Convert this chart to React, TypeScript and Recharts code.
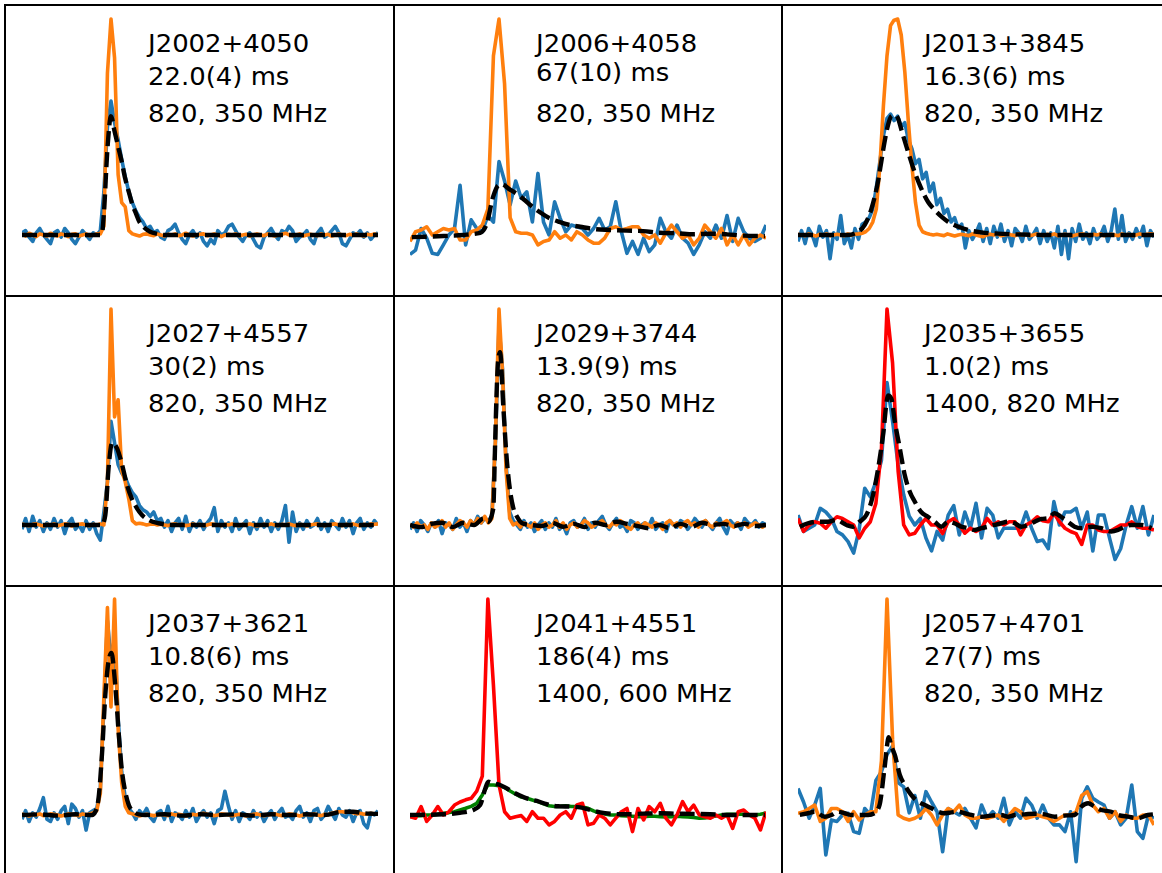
import React from "react";
import { LineChart, Line, XAxis, YAxis } from "recharts";

// ---------- Panel labels ----------
const NAMES = ["J2002+4050", "J2006+4058", "J2013+3845", "J2027+4557", "J2029+3744", "J2035+3655", "J2037+3621", "J2041+4551", "J2057+4701"];
const TAUS = ["22.0(4) ms", "67(10) ms", "16.3(6) ms", "30(2) ms", "13.9(9) ms", "1.0(2) ms", "10.8(6) ms", "186(4) ms", "27(7) ms"];
const FREQS = ["820, 350 MHz", "820, 350 MHz", "820, 350 MHz", "820, 350 MHz", "820, 350 MHz", "1400, 820 MHz", "820, 350 MHz", "1400, 600 MHz", "820, 350 MHz"];

// ---------- Panel 1: J2002+4050 ----------
const P1_LOW = [
  1, 2, -1, -3, 1, 3, 0, -2, -4, 1,
  2, -1, 3, 1, -2, -4, -1, 2, 0, -2,
  1, 0, 2, 20, 50, 62, 52, 44, 35, 27,
  20, 15, 11, 8, 6, 3, 4, 1, 2, -1,
  -2, 2, 3, 5, 1, -2, -4, 0, 2, -1,
  1, -3, -5, -2, -4, 2, 0, 1, 4, 5,
  2, -1, -3, 0, 1, -2, -5, -6, -1, 1,
  3, 0, -2, 2, 1, 4, 2, -3, -1, 0,
  2, -2, -4, 1, 3, -1, 0, 2, 4, 1,
  -4, -5, -2, 1, 0, 2, -1, 1, -2, 0,
  1,
];
const P1_HIGH = [
  0.5, -0.5, 0.8, 0, -0.8, 0.5, 0, -0.5, 0.8, 0,
  -0.5, 0.5, 0, -0.8, 0.3, 0.5, -0.5, 0, 0.5, -0.3,
  0, 0.5, 0.5, 4, 75, 100, 82, 28, 15, 13,
  2, 0.5, 0, -0.5, 0.3, 0.5, 0, -0.3, 0.5, 0,
  -0.5, 0.3, 0, 0.5, -0.3, 0, 0.8, 0, -0.5, 0,
  0.3, 0.5, -0.3, 0, 0.5, 0, -0.8, 0, 0.3, 0,
  0.5, -0.3, 0, 0.3, -0.5, 0, 0.5, 0, -0.3, 0.5,
  0, -0.5, 0, 0.3, 0.8, 0, -0.3, 0, 0.5, -0.5,
  0, 0.3, 0, -0.3, 0.5, 0, 0.3, -0.5, 0, 0.5,
  0, -0.3, 0.3, 0, 0.5, 0, -0.5, 0.3, 0, 0.5,
  0,
];
const P1_FIT = [
  [0, 0], [22, 0], [22.5, 1], [23, 10], [24, 40], [25, 55], [26, 48], [27, 41], [28, 34], [29, 26],
  [30, 20], [31, 14], [32, 10], [33, 6], [34, 4], [35, 2.5], [36, 1.5], [38, 0.5], [40, 0], [100, 0],
];

// ---------- Panel 2: J2006+4058 ----------
const P2_LOW = [
  -9, -7, 3, -1.5, -8.5, -9, -4.6, 0, 3, 23,
  -4.6, 7, 3, 1.5, 9, 6, 34, 25, 14, 25,
  17, 20, 6, 28.5, 6, 0, 15.4, 7.7, 1.5, 4.6,
  3.8, 3, 0, 3, 7.7, 2.3, 3.8, 15.4, 1.5, -8.5,
  -3, -9, -1.5, -7.7, -4.6, 7.7, 1.5, -1.5, 4.6, -1.5,
  -3.8, -9, -4.6, 1.5, -1.5, 4.6, -1.5, 9, -3, 7.7,
  1.5, -1.5, -3, -1.5, 4.6,
];
const P2_HIGH = [
  -3, 1.5, 2.3, 3.8, 0, 1.5, 3, 2.3, 3, -2.3,
  -2.3, 1.5, 2.3, 4.6, 12, 83, 100, 70, 8, 1.5,
  0.8, 0.8, 0, -4.6, -3, -2.3, 1.5, -1.5, 0, -2.3,
  1.5, 0, -2.3, -3.8, -3.8, -1.5, 3, 3.8, 2.3, 3,
  3.8, 3.8, 0, -1.5, 0, -3.8, 0.8, 4.6, 1.5, -1.5,
  0, -4.6, -1.5, 4.6, 1.5, -1.5, 3, -4.6, 0, -4.6,
  0, -4.6, -1.5, 0, -1.5,
];
const P2_FIT = [
  [0.5, -1], [9.4, -0.5], [15, 0], [19.7, 1], [21.5, 5], [23.4, 18], [24.8, 23], [25.7, 23.5], [28.1, 21],
  [30.9, 18], [33.7, 14], [36.5, 10.5], [39.3, 7.7], [42.1, 6], [44.9, 4.6], [47.8, 3.8], [51.5, 2.8],
  [56.2, 2.3], [60.9, 2], [65.5, 1.8], [70.2, 1], [74.9, 0.8], [79.6, 0.3], [84.3, 0.6], [89, 0.3],
  [93.6, -0.3], [99.7, -0.5],
];

// ---------- Panel 3: J2013+3845 ----------
const P3_LOW = [
  -3, 2, -4, 3, 0, -5, 4, -1, 2, -11,
  1, -2, 9, -4, 0, -6, 3, -2, 5, 6,
  8, 12, 22, 34, 46, 54, 56, 53, 55, 50,
  52, 44, 40, 33, 35, 26, 29, 20, 24, 14,
  17, 10, 12, 6, 8, 3, 5, -6, 2, -2,
  1, 5, -3, 3, -4, 4, -1, 5, -3, 2,
  -5, 3, 1, -3, 4, -2, 0, 3, -4, 2,
  -3, 1, -6, 4, -9, 2, -11, 3, -3, 5,
  -2, 1, -4, 3, -2, 0, 4, -3, 2, 12,
  -2, 9, -3, 1, -2, 3, -1, 4, -5, 2,
  -1,
];
const P3_HIGH = [
  0.3, 0, -0.3, 0.5, 0, -0.5, 0.3, 0, 0.5, -0.3,
  0, 0.3, 0, -0.3, 0.5, 0, 0.3, 0.5, 0.8, 1.5,
  3, 6, 12, 32, 60, 83, 97, 99.5, 100, 92.6,
  75.6, 52.5, 32, 15, 4.6, 1.5, 0.8, 0.3, 0, 0.3,
  0, -0.3, 0.5, 0, -0.5, 0, 0.3, 0, -0.3, 0.5,
  0, -0.5, -0.8, 0, 0.3, 0, 0.5, -0.3, 0, 0.3,
  0, -0.3, 0.5, 0, 0.3, -0.3, 0, 0.5, 0, -0.3,
  0.3, 0, 0.5, -0.3, 0, 0.3, 0, -0.5, 0, 0.3,
  0.5, 0, -0.3, 0.3, 0, 0.5, -0.3, 0, 0.3, 0,
  -0.3, 0.5, 0, 0.3, -0.3, 0, 0.5, 0, 0.3, 0.5,
  0.3,
];
const P3_FIT = [
  [0, 0], [14, 0], [16.9, 1.5], [18.7, 4.6], [20.6, 12], [22.5, 25], [23.4, 34], [24.3, 43], [25.3, 51],
  [26.2, 55], [27.2, 55.6], [28.1, 54], [29, 49], [30.9, 38.6], [32.8, 29], [34.6, 21.6], [36.5, 15.4],
  [38.4, 11.6], [40.3, 8.5], [42.1, 6.2], [44.9, 3.9], [47.8, 2.3], [51.5, 1.2], [56.2, 0.6], [60.9, 0.3],
  [70.2, 0], [100, 0],
];

// ---------- Panel 4: J2027+4557 ----------
const P4_LOW = [
  -2, 3, -3, 4, -1, 2, -3, 1, -2, 3,
  -1, 2, -4, 1, 3, -2, 0, -3, 2, -2,
  1, -4, -7, 6, 20, 48, 38, 28, 24, 22,
  18, 15, 13, 9, 7, 6, 4, 6, 2, 3,
  -1, 2, -3, 1, 3, -2, 4, -3, 1, -1,
  2, -2, 1, 3, 8, -3, 2, -1, 1, -3,
  3, -2, 0, 2, -4, 1, -2, 3, -1, 2,
  -3, 1, -2, 2, 9, -8, 6, -3, 1, -2,
  2, -1, 0, 3, -2, 1, -3, 2, 0, -2,
  3, -1, 2, -4, 1, 3, -2, 1, -1, 2,
  0,
];
const P4_HIGH = [
  0.5, 0, -0.3, 0.3, 0.5, 0, -0.5, 0.3, 0, 0.5,
  -0.3, 0, 0.5, 0.3, -0.5, 0, 0.3, 0.5, 0, -0.3,
  0.3, 0, 0.5, 0, 20, 100, 50, 58, 25, 20,
  12, 2, 0.5, 0.8, 0.5, 0, 0.3, 0.5, 0, 0.3,
  0, -0.3, 0.3, 0.5, 0, 0.3, -0.3, 0, 0.5, 0,
  0.3, -0.3, 0, 0.5, 0.3, 0, -0.3, 0.3, 0, 0.5,
  0, -0.3, 0.3, 0, 0.5, 0, -0.5, 0, 0.3, 0,
  0.5, 0, -0.3, 0.3, 0, 0.5, 0, -0.3, 0.3, 0,
  -0.5, 0, 0.3, 0.5, 0, -0.3, 0, 0.3, 0.5, 0,
  -0.3, 0.3, 0, 0.5, 0, -0.3, 0.3, 0, 0.5, 0.3,
  0.5,
];
const P4_FIT = [
  [0, 0], [22.5, 0], [23.4, 4.6], [24.3, 26], [25.3, 38], [26.7, 35.5], [28.1, 28], [29.5, 18.5],
  [30.9, 12], [32.3, 7.7], [33.7, 4.6], [35.6, 2.3], [38.4, 0.8], [42.1, 0], [100, 0],
];

// ---------- Panel 5: J2029+3744 ----------
const P5_LOW = [
  -2, 1, -3, 2, 0, -3, 1, -1, 2, -4,
  1, 0, -2, 3, -1, 1, -3, 2, 0, 4,
  1, 3, 2, 4, 38, 92, 72, 28, 6, 2,
  0, -2, 2, -1, 1, -3, 0, 2, -2, 1,
  -1, 3, -2, 0, -4, 1, 2, -1, 0, 3,
  -2, 1, -1, 2, 4, 0, -2, 1, 3, -1,
  0, -3, 2, 1, -2, 0, 1, -1, 3, -2,
  0, 1, -3, 2, 0, -1, 2, 1, -2, 0,
  3, 1, -1, 2, 0, -2, 1, 3, -1, -4,
  2, 0, 1, -2, 3, 1, 0, 2, -1, 1,
  0,
];
const P5_HIGH = [
  0, -1, 1, -1, 0, -2, 1, -1, 0, 2,
  -1, 1, -2, 0, 2, 1, -1, 2, 0, 3,
  1, 4, 1, 3, 40, 100, 70, 25, 3, 0,
  1, -1, 1, 0, -1, 1, -2, 0, 1, -1,
  0, 2, -1, 1, -2, 0, 1, -1, 0, 2,
  1, -1, 0, 1, 2, 0, -1, 1, 0, 2,
  1, -1, -2, 0, 1, -1, 1, 0, -1, 1,
  0, -2, 1, 2, 0, 1, -1, 1, 2, 0,
  1, -1, 1, 2, 0, -1, 1, 0, 1, 2,
  0, -1, 1, 0, 1, -1, 0, 1, 0, -1,
  0,
];
const P5_FIT = [
  [0, 0], [3, -1], [6, 0.5], [9, 1], [12, -1], [15, 1], [18, 0], [20.6, 3], [22, 1.5], [23.4, 7.7],
  [23.9, 37], [24.3, 60], [24.8, 77], [25.3, 80], [26.2, 55], [27.2, 30], [28.1, 16], [29, 8], [30, 4],
  [31, 1.5], [32, 0.5], [34, 0], [37, -0.5], [40, 1], [43, -0.8], [46, 0.5], [49, -1], [52, 1], [55, 0],
  [58, 1.5], [61, 0.5], [64, -0.5], [67, -1.5], [70, 0], [73, -1.5], [76, 0.5], [79, -1], [82, 1],
  [85, 0], [88, 0.5], [91, -0.5], [94, 0.5], [97, -0.5], [100, 0],
];

// ---------- Panel 6: J2035+3655 ----------
const P6_LOW = [
  4.6, -3, -1.5, 0, 7.7, 6, 3, -3, -4.6, -7.7,
  -13, -2, 17, 13, 20, 30, 66, 48, 28, 14,
  4, 0, 3, -6, -12, -3, -7, 4.6, 9, -4.6,
  6, -1.5, 10, -6, 7.7, 4.6, -6, -1.5, -1.5, -1.5,
  -1.5, 6, -1.5, -7.7, -7, -11, 10.8, 0, 6, 6,
  7.7, -1.5, 6, -12, 4.6, 4.6, -6, -16, -11, 0,
  8.5, -1.5, 8.5, -4.6, 4.6,
];
const P6_HIGH = [
  3, -3, 0, 1.5, 0.8, -1.5, 1.5, 3.8, 3, 1.5,
  0, -6, -1.5, 1.5, 10, 35, 100, 75, 25, 0,
  -4.6, -3.8, 0, 3, 0, 0, -4, 1.5, 3, 0,
  -3.8, -1.5, -3, -1.5, 3, 0, 1.5, 0, 1.5, 1.5,
  -4.6, 0, 1.5, 3.8, 2, 1.5, 5.4, 1.5, -1.5, -3,
  -4, -9, 0, 0, -2.3, -3, -3, -1.5, 0, 0,
  1.5, -0.8, -1.5, -1.5, -2.3,
];
const P6_FIT = [
  [0.5, -0.8], [2.8, 0.8], [5.6, 1.5], [8.4, 1.5], [10.8, 2.3], [13.6, 0], [15.4, -0.8], [17.3, 1.5],
  [19.2, 4.6], [20.6, 10.8], [22.5, 26], [23.9, 41.7], [25.3, 60], [26.2, 58.6], [27.2, 47.8],
  [28.6, 35.5], [30, 23], [31.4, 15.4], [32.8, 10.8], [34.6, 6], [36.5, 3.8], [38.4, 1.5], [40.3, -0.8],
  [42.1, 1.5], [43.9, 0.8], [45.9, -0.8], [47.8, -1.5], [49.6, -2.3], [51.5, -1.5], [53.4, -0.8],
  [55.2, 0], [57.1, 0.8], [59, 1.5], [60.9, 0.8], [62.7, -0.8], [64.6, 0], [66.5, 1.5], [68.4, 2.8],
  [70.2, 3.1], [72.1, 5.4], [73.9, 3.8], [75.8, 1.5], [77.7, -0.8], [79.6, -1.5], [82.4, -0.8],
  [85.2, -1.5], [88, -3], [89.9, -2.3], [91.8, -0.8], [93.6, 0], [96.4, 0], [99.3, -1.5],
];

// ---------- Panel 7: J2037+3621 ----------
const P7_LOW = [
  -2, 2, -3, 1, -1, 3, 8, -2, -3, 1,
  -2, 2, 4, -4, 5, 3, -1, 2, -7, 1,
  2, 3, 12, 50, 90, 72, 82, 45, 20, 8,
  3, 1, -2, 2, 0, 3, -1, -3, 1, 2,
  -2, 4, -3, 1, 0, -2, 2, -1, 3, -3,
  0, 2, -1, 1, -4, 2, 3, 11, 4, -2,
  2, -3, 1, 0, -2, 2, -1, 1, -3, 0,
  2, -2, 1, 3, -1, 0, -2, 2, 4, -1,
  1, -3, 2, 3, -2, 0, 4, 1, -2, 3,
  0, -1, 2, -3, 1, 2, -4, -6, 1, 0,
  2,
];
const P7_HIGH = [
  0.5, 0, -0.5, 0.3, 0, 0.5, -0.3, 0, 0.5, 0.3,
  0, -0.5, 0, 0.5, 0.3, 0, -0.3, 0.5, 0, 0.5,
  1, 2, 10, 55, 96, 50, 100, 40, 15, 4,
  1, 0.5, 0, -0.5, 0, 0.3, 0, -0.3, 0, 0.3,
  0, -0.3, 0.5, 0, 0.3, 0, -0.5, 0, 0.3, 0,
  0.5, 0.8, 0.3, 0, -0.3, 0, 0.5, 0.3, 0, -0.3,
  0, 0.3, 0, -0.5, 0, 0.3, 0.5, 0, -0.3, 0,
  0.3, 0.5, 0, -0.3, 0, 0.5, 0.3, 0, -0.5, 0,
  0.3, 0, 0.5, 0, -0.3, 0.3, 0, 0.8, 1.2, 1.5,
  1.5, 1.2, 1.5, 1, 0.5, 0.8, 0.3, 0.5, 0.8, 0.5,
  0.5,
];
const P7_FIT = [
  [0, 0], [5, 0.3], [10, -0.3], [15, 0.3], [19.7, 0], [20.6, 1.5], [21.5, 7.7], [22.5, 29], [23.4, 55.6],
  [24.3, 71], [25.1, 75], [26.2, 60], [27.2, 37], [28.1, 20], [29, 10.8], [30, 4.6], [31.4, 1.5],
  [32.8, 0.3], [34.6, 0], [40, 0.3], [45, -0.3], [50, 0.3], [55, 0], [60, 0.3], [65, -0.3], [70, 0.3],
  [75, 0], [80, 0.3], [85, 0], [90, 1.5], [93, 1.5], [96, 0.8], [100, 0.5],
];

// ---------- Panel 8: J2041+4551 ----------
const P8_LOW = [
  -0.8, -0.5, -0.3, 0, 0, 0.3, 0.8, 1.1, 1.5, 2.3,
  3.1, 4, 5.4, 9.3, 13.9, 13.9, 13.6, 12.7, 11.1, 9.6,
  8.3, 7.7, 6.9, 6.2, 5.2, 4.3, 3.9, 4, 4.2, 3.9,
  3.9, 3.7, 3.1, 1.9, 0.9, 0.5, 0, 0, -0.3, -0.5,
  -0.6, -0.8, -0.8, -0.6, -0.6, -0.8, -0.9, -0.8, -0.6, -0.8,
  -0.9, -1.2, -1.5, -1.4, -0.9, -0.5, 0, 0.3, 0.3, 0.3,
  0.3, 0, 0, 0.3, 0.9,
];
const P8_HIGH = [
  -0.8, -1.5, 3.9, -3, 0, 3.9, 0, 1.5, 4.6, 6,
  7, 7.7, 11, 18, 100, 60, 14, 1.5, -1.5, -0.8,
  -0.3, -3, 1.5, -1.5, -1.5, -4.6, -3, 0, 1.5, -1.5,
  4.6, 5.4, -4.6, -3.8, 0, -1.5, -4.6, -1.5, 1.5, 3,
  -7.7, 3, -2.3, 3.9, 1.5, 5.4, -1.5, -4.6, 0, 6.2,
  1.5, 4.6, 0, -0.8, -1.5, 0, -1.5, 0, -6.2, 1.5,
  2.3, 0, -1.5, -6.9, 1.5,
];
const P8_FIT = [
  [0, 0], [9.4, 0.3], [14, 1], [17.8, 2.3], [19.7, 4.6], [21.1, 12], [22, 15.4], [23.4, 14.7],
  [25.3, 13.9], [27.2, 12.3], [29, 10.5], [30.9, 9], [32.8, 7.7], [35.6, 6.5], [38.4, 5], [40.3, 4.2],
  [42.1, 4], [44.9, 3.9], [47.8, 3.5], [50.6, 2.3], [53.4, 1.2], [56.2, 0.6], [60.9, 0.3], [65.5, 0.6],
  [70.2, 0.8], [74.9, 0.6], [79.6, 0.5], [84.3, 0.3], [89, 0], [99.7, 0],
];

// ---------- Panel 9: J2057+4701 ----------
const P9_LOW = [
  12.3, 6, -1.5, 4.6, 12.3, -18.5, -2.3, -3, 0, 0.8,
  -7.7, -8.5, 3, 0, 16, 20, 28, 32, 15, 13,
  1, 9, -1.5, 10.8, 6, 1.5, -17, 3, 1.5, 0,
  3, -1.5, -6, 4.6, -1.5, 1.5, -1.5, 7.7, -4.6, 1.5,
  -1.5, 7.7, 4.6, -1.5, 4.6, -1.5, -4.6, -4.6, -7.7, 1.5,
  -21.6, 7.7, 13, 7.7, 6, 4.6, -1.5, 1.5, -4.6, -1.5,
  13.9, -7.7, -10.8, 0, -1.5,
];
const P9_HIGH = [
  0.8, 1.5, 3, 4.6, -3, -1.5, 3, 3, 1.5, -3,
  1.5, -2.3, 0, 1.5, 1.5, 25, 100, 35, 0, -1.5,
  -2.3, -1.5, 0, 3, 0, -4.6, 0, 3, 1.5, 4.6,
  0, -1.5, -1.5, -0.8, -1.5, -0.8, 0, -3, 0, 3,
  1.5, -1.5, -0.8, 0, -0.8, -1.5, -3, -1.5, 0, 0,
  1.5, 9, 10.8, 4.6, 1.5, 3, -1.5, 1.5, -3, 0,
  -1.5, -1.5, 0, 0, -4.6,
];
const P9_FIT = [
  [0.5, 0], [2.8, 0.8], [4.7, 1.5], [7.5, -0.8], [9.4, 0], [11.2, 1.5], [13.1, 0.8], [15, 0], [19.7, 0],
  [21.5, 0.8], [22.9, 4.6], [24.3, 21.6], [25.5, 36], [26.2, 32], [27.2, 27.8], [28.6, 18.5], [30, 13.9],
  [31.8, 9.3], [33.7, 6.2], [35.6, 4.6], [37.5, 3.1], [39.3, 1.5], [41.2, 0.8], [43.1, 1.2], [44.9, 1.5],
  [46.8, 0.8], [48.7, 0], [51.5, -0.8], [54.3, -0.3], [57.1, 0], [59, -0.8], [60.9, 0], [63.7, 0.3],
  [66.5, 0.6], [69.3, 0.3], [72.1, -0.8], [74.9, -0.3], [77.7, 0], [79.6, 3.9], [81.5, 5.4], [83.3, 3.9],
  [85.2, 2.3], [88, 1.5], [89.9, 0], [92.7, -0.8], [95.5, -1.5], [98.3, 0], [99.7, 0.3],
];

// ---------- styling ----------
const BLUE = "#1f77b4";
const ORANGE = "#ff7f0e";
const RED = "#ff0000";
const GREEN = "#008000";

const PANEL_W = 388;
const PANEL_H = 290;
const Y_DOMAIN: [number, number] = [-27.8, 106.5];

const uniform = (arr: number[]) => arr.map((v, i) => ({ x: (i * 100) / (arr.length - 1), y: v }));
const pairs = (arr: number[][]) => arr.map(([x, y]) => ({ x, y }));

type Panel = {
  low: number[];
  high: number[];
  fit: number[][];
  lowColor: string;
  highColor: string;
};

const PANELS: Panel[] = [
  { low: P1_LOW, high: P1_HIGH, fit: P1_FIT, lowColor: BLUE, highColor: ORANGE },
  { low: P2_LOW, high: P2_HIGH, fit: P2_FIT, lowColor: BLUE, highColor: ORANGE },
  { low: P3_LOW, high: P3_HIGH, fit: P3_FIT, lowColor: BLUE, highColor: ORANGE },
  { low: P4_LOW, high: P4_HIGH, fit: P4_FIT, lowColor: BLUE, highColor: ORANGE },
  { low: P5_LOW, high: P5_HIGH, fit: P5_FIT, lowColor: BLUE, highColor: ORANGE },
  { low: P6_LOW, high: P6_HIGH, fit: P6_FIT, lowColor: BLUE, highColor: RED },
  { low: P7_LOW, high: P7_HIGH, fit: P7_FIT, lowColor: BLUE, highColor: ORANGE },
  { low: P8_LOW, high: P8_HIGH, fit: P8_FIT, lowColor: GREEN, highColor: RED },
  { low: P9_LOW, high: P9_HIGH, fit: P9_FIT, lowColor: BLUE, highColor: ORANGE },
];

function ProfilePanel({ idx }: { idx: number }) {
  const p = PANELS[idx];
  const col = idx % 3;
  const row = Math.floor(idx / 3);
  const left = 5 + col * PANEL_W;
  const top = 5 + row * PANEL_H;
  const line2Y = idx === 1 ? 76 : 80;
  const font = { fontFamily: "'DejaVu Sans', sans-serif", fontSize: 24, fill: "#000" };
  return (
    <div style={{ position: "absolute", left, top, width: PANEL_W, height: PANEL_H }}>
      <LineChart width={PANEL_W} height={PANEL_H} margin={{ top: 0, right: 15, bottom: 0, left: 17 }}>
        <XAxis type="number" dataKey="x" domain={[0, 100]} hide allowDataOverflow />
        <YAxis type="number" domain={Y_DOMAIN} hide allowDataOverflow />
        <Line data={uniform(p.low)} dataKey="y" stroke={p.lowColor} strokeWidth={3.6} dot={false}
          isAnimationActive={false} type="linear" strokeLinejoin="round" />
        <Line data={uniform(p.high)} dataKey="y" stroke={p.highColor} strokeWidth={3.6} dot={false}
          isAnimationActive={false} type="linear" strokeLinejoin="round" />
        <Line data={pairs(p.fit)} dataKey="y" stroke="#000" strokeWidth={4.4} strokeDasharray="15 6" dot={false}
          isAnimationActive={false} type="monotone" />
      </LineChart>
      <svg width={PANEL_W} height={PANEL_H} style={{ position: "absolute", left: 0, top: 0, pointerEvents: "none" }}>
        <g transform="translate(143,0) scale(1.08,1)">
          <text x={0} y={47} style={font}>{NAMES[idx]}</text>
          <text x={0} y={line2Y} style={font}>{TAUS[idx]}</text>
          <text x={0} y={117} style={font}>{FREQS[idx]}</text>
        </g>
      </svg>
    </div>
  );
}

export default function App() {
  const vLines = [4, 393, 781];
  const hLines = [4, 295, 585];
  return (
    <div style={{ position: "fixed", left: 0, top: 0, width: 1162, height: 873, overflow: "hidden", background: "#fff" }}>
      {PANELS.map((_, i) => <ProfilePanel key={i} idx={i} />)}
      {vLines.map((x) => (
        <div key={"v" + x} style={{ position: "absolute", left: x, top: 4, width: 2, height: 880, background: "#000" }} />
      ))}
      {hLines.map((y) => (
        <div key={"h" + y} style={{ position: "absolute", left: 4, top: y, width: 1170, height: 2, background: "#000" }} />
      ))}
    </div>
  );
}
